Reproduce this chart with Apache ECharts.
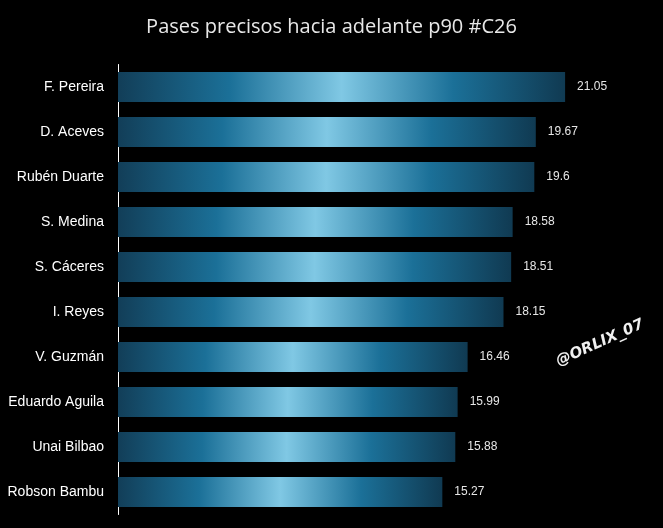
<!DOCTYPE html>
<html><head><meta charset="utf-8">
<script src="https://cdn.jsdelivr.net/npm/echarts@6/dist/echarts.min.js"></script>
<style>html,body{margin:0;background:#000}#c{width:663px;height:528px}</style>
</head><body><div id="c"></div>
<script>
const players = ["F. Pereira","D. Aceves","Rubén Duarte","S. Medina","S. Cáceres","I. Reyes","V. Guzmán","Eduardo Aguila","Unai Bilbao","Robson Bambu"];
const values = [21.05,19.67,19.6,18.58,18.51,18.15,16.46,15.99,15.88,15.27];
const chart = echarts.init(document.getElementById('c'));
const grad = new echarts.graphic.LinearGradient(0,0,1,0,[
 {offset:0,color:'#123e58'},{offset:0.25,color:'#1b7098'},{offset:0.5,color:'#80c8e4'},
 {offset:0.75,color:'#1b7098'},{offset:1,color:'#103a52'}]);
chart.setOption({
 backgroundColor:'#000',
 title:{text:'Pases precisos hacia adelante p90 #C26',left:'center',top:12,
  textStyle:{color:'#e8e8e8',fontSize:20,fontWeight:'normal',fontFamily:'Open Sans'}},
 grid:{left:118,right:14,top:64.5,bottom:13.5},
 xAxis:{type:'value',min:0,max:25,show:false},
 yAxis:{type:'category',data:players,inverse:true,
  axisLine:{show:true,lineStyle:{color:'#ffffff',width:1}},axisTick:{show:false},
  axisLabel:{color:'#ffffff',fontSize:14,margin:14,fontFamily:'Liberation Sans'}},
 series:[{type:'bar',data:values,barWidth:30,itemStyle:{color:grad},
  label:{show:true,position:'right',distance:12,color:'#e6e6e6',fontSize:12,fontFamily:'Liberation Sans'}}],
 graphic:[{type:'text',x:600,y:343,rotation:0.42,style:{text:'@ORLIX_07',fill:'#f0f0f0',
  font:'italic bold 15px DejaVu Sans',textAlign:'center',textVerticalAlign:'middle'}}]
});
</script></body></html>
